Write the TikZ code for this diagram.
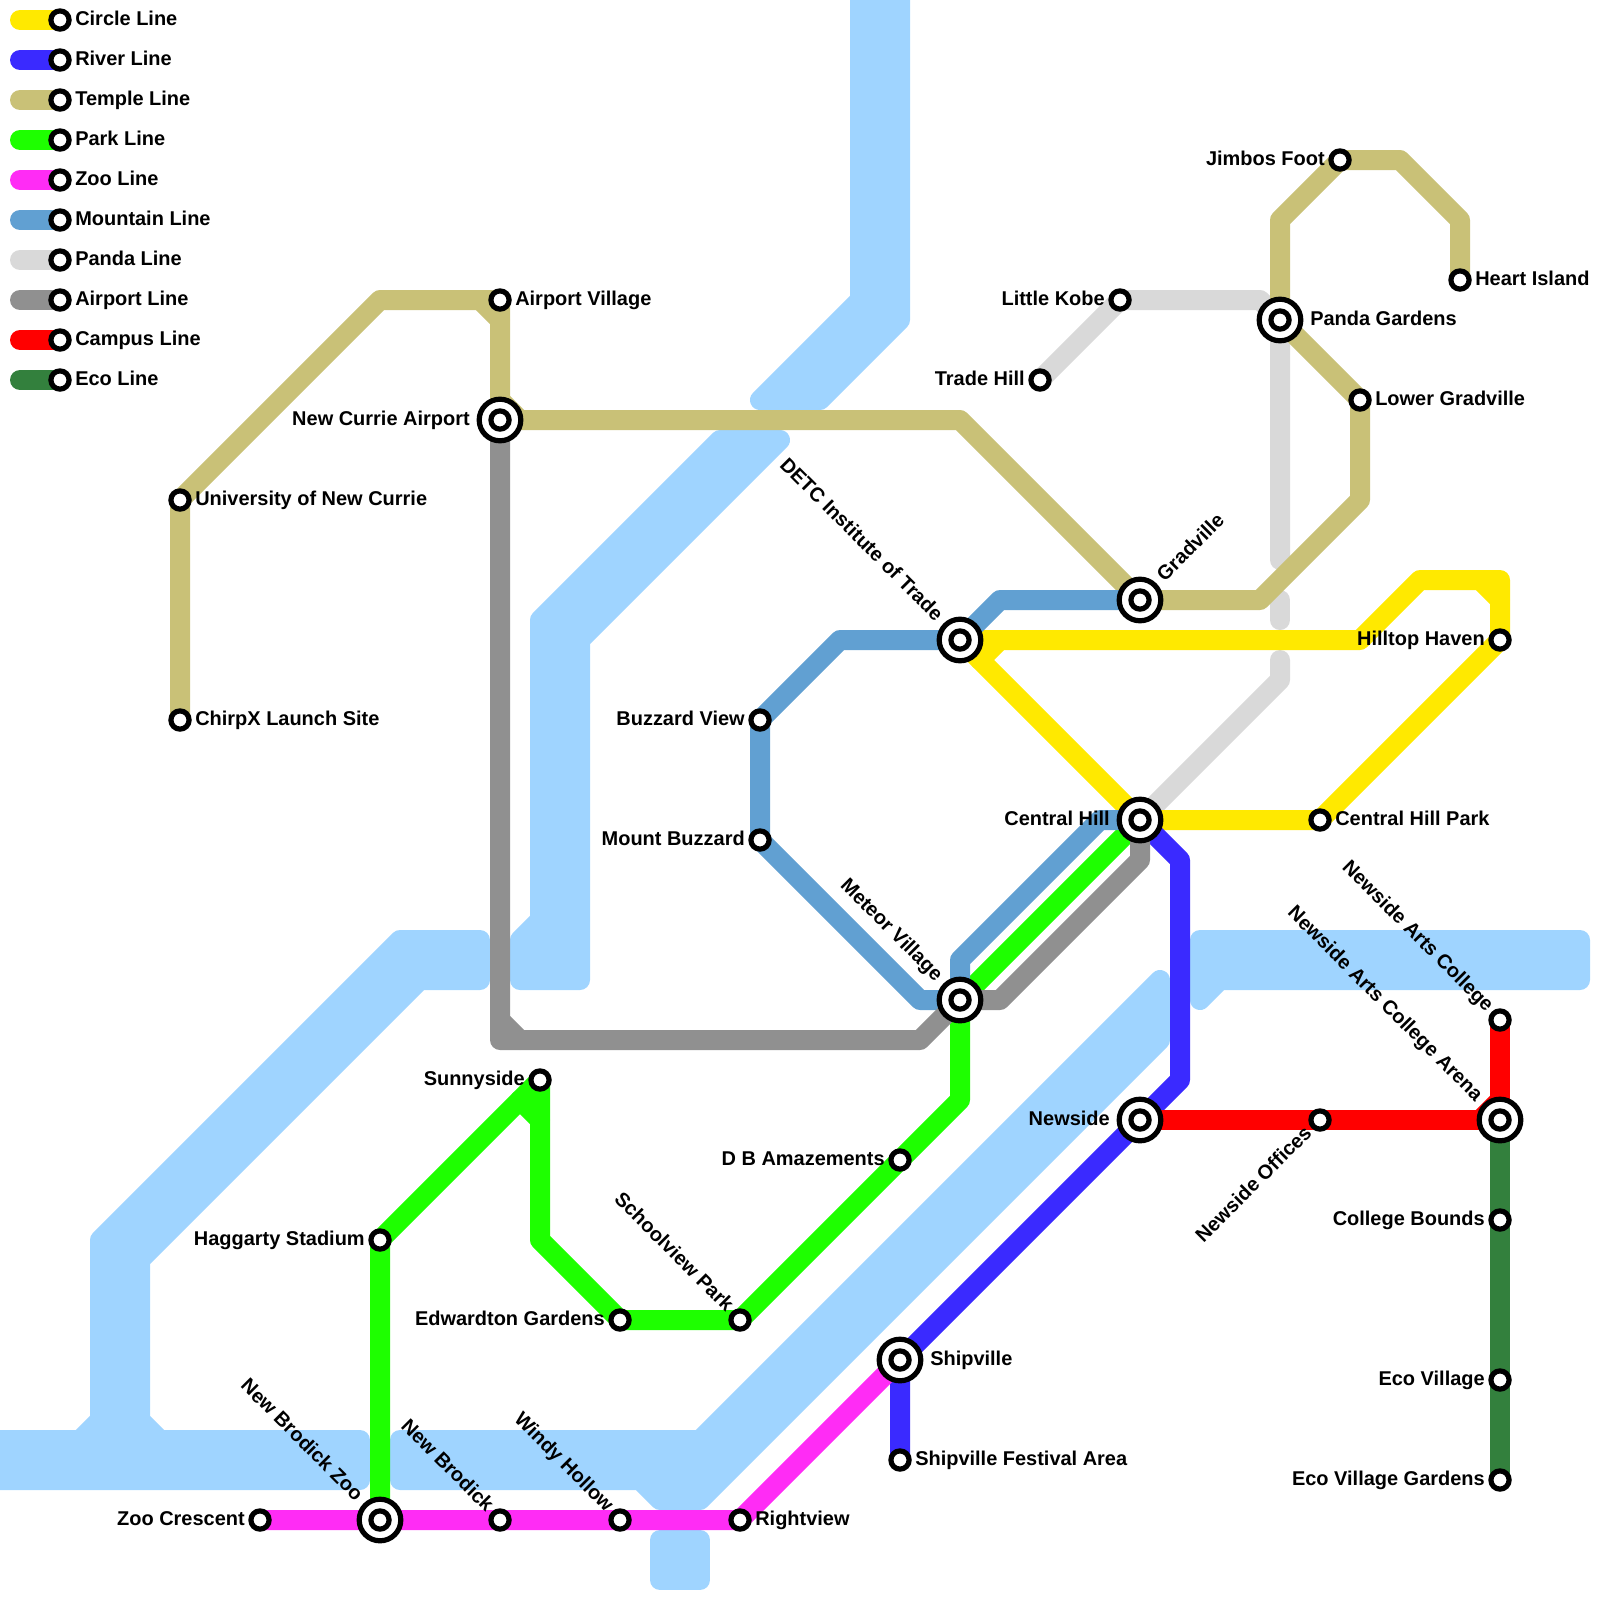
\documentclass[tikz,border=0pt]{standalone}
\usepackage{fontspec}
\setmainfont{Liberation Sans}
\usetikzlibrary{backgrounds}
\definecolor{cirline}{HTML}{FFE900}
\definecolor{rivline}{HTML}{3A2AFF}
\definecolor{temline}{HTML}{C9C177}
\definecolor{parline}{HTML}{1EFF00}
\definecolor{zooline}{HTML}{FF2CF5}
\definecolor{mouline}{HTML}{61A0D2}
\definecolor{panline}{HTML}{D9D9D9}
\definecolor{airline}{HTML}{909090}
\definecolor{camline}{HTML}{FF0000}
\definecolor{ecoline}{HTML}{33803D}
\definecolor{watercol}{HTML}{9FD4FF}
\tikzset{
  route/.style={line width=.5cm, line cap=round, line join=round, draw=#1},
  water/.style={draw=watercol, fill=watercol, line width=.5cm, line join=round},
  stn/.style={circle, draw, fill=white, line width=1.3mm, inner sep=0pt, minimum size=4.55mm},
  hub/.style={stn, minimum size=10.4mm},
  txt/.style={inner sep=0pt, font=\bfseries\fontsize{14.2}{14.2}\selectfont},
  lblr/.style={txt, anchor=base west, xshift=.375cm, yshift=-1.25mm},
  lbll/.style={txt, anchor=base east, xshift=-.375cm, yshift=-1.25mm},
  hubr/.style={txt, anchor=base west, xshift=.75cm, yshift=-1.25mm},
  hubl/.style={txt, anchor=base east, xshift=-.75cm, yshift=-1.25mm}
}
\begin{document}
\begin{tikzpicture}[x=.5cm, y=-.5cm]
\useasboundingbox(0,0)rectangle(80,80);
% key
\node[stn](kcir)at(3,1){};\node[lblr]at(kcir){Circle Line};
\node[stn](kriv)at(3,3){};\node[lblr]at(kriv){River Line};
\node[stn](ktem)at(3,5){};\node[lblr]at(ktem){Temple Line};
\node[stn](kpar)at(3,7){};\node[lblr]at(kpar){Park Line};
\node[stn](kzoo)at(3,9){};\node[lblr]at(kzoo){Zoo Line};
\node[stn](kmou)at(3,11){};\node[lblr]at(kmou){Mountain Line};
\node[stn](kpan)at(3,13){};\node[lblr]at(kpan){Panda Line};
\node[stn](kair)at(3,15){};\node[lblr]at(kair){Airport Line};
\node[stn](kcam)at(3,17){};\node[lblr]at(kcam){Campus Line};
\node[stn](keco)at(3,19){};\node[lblr]at(keco){Eco Line};
% stations
\node[stn](apv)at(25,15){};\node[lblr]at(apv){Airport Village};
\node[stn](unc)at(9,25){};\node[lblr]at(unc){University of New Currie};
\node[stn](chx)at(9,36){};\node[lblr]at(chx){ChirpX Launch Site};
\node[stn](jim)at(67,8){};\node[lbll]at(jim){Jimbos Foot};
\node[stn](hea)at(73,14){};\node[lblr]at(hea){Heart Island};
\node[stn](lko)at(56,15){};\node[lbll]at(lko){Little Kobe};
\node[stn](trh)at(52,19){};\node[lbll]at(trh){Trade Hill};
\node[stn](log)at(68,20){};\node[lblr]at(log){Lower Gradville};
\node[stn](hil)at(75,32){};\node[lbll]at(hil){Hilltop Haven};
\node[stn](buz)at(38,36){};\node[lbll]at(buz){Buzzard View};
\node[stn](mbu)at(38,42){};\node[lbll]at(mbu){Mount Buzzard};
\node[stn](chp)at(66,41){};\node[lblr]at(chp){Central Hill Park};
\node[stn](nac)at(75,51){};\node[rotate=-45,lbll]at(nac){Newside Arts College};
\node[stn](nof)at(66,56){};\node[rotate=45,lbll]at(nof){Newside Offices};
\node[stn](sun)at(27,54){};\node[lbll]at(sun){Sunnyside};
\node[stn](dba)at(45,58){};\node[lbll]at(dba){D B Amazements};
\node[stn](cob)at(75,61){};\node[lbll]at(cob){College Bounds};
\node[stn](hag)at(19,62){};\node[lbll]at(hag){Haggarty Stadium};
\node[stn](edw)at(31,66){};\node[lbll]at(edw){Edwardton Gardens};
\node[stn](sch)at(37,66){};\node[rotate=-45,lbll]at(sch){Schoolview Park};
\node[stn](ecv)at(75,69){};\node[lbll]at(ecv){Eco Village};
\node[stn](sfa)at(45,73){};\node[lblr]at(sfa){Shipville Festival Area};
\node[stn](evg)at(75,74){};\node[lbll]at(evg){Eco Village Gardens};
\node[stn](zoc)at(13,76){};\node[lbll]at(zoc){Zoo Crescent};
\node[stn](nbk)at(25,76){};\node[rotate=-45,lbll]at(nbk){New Brodick};
\node[stn](wih)at(31,76){};\node[rotate=-45,lbll]at(wih){Windy Hollow};
\node[stn](rig)at(37,76){};\node[lblr]at(rig){Rightview};
% interchanges
\node[hub](ncu)at(25,21){};\node[stn]at(ncu){};\node[hubl]at(ncu){New Currie Airport};
\node[hub](pag)at(64,16){};\node[stn]at(pag){};\node[hubr]at(pag){Panda Gardens};
\node[hub](gra)at(57,30){};\node[stn]at(gra){};\node[rotate=45,hubr]at(gra){Gradville};
\node[hub](det)at(48,32){};\node[stn]at(det){};\node[rotate=-45,hubl]at(det){DETC Institute of Trade};
\node[hub](cen)at(57,41){};\node[stn]at(cen){};\node[hubl]at(cen){Central Hill};
\node[hub](met)at(48,50){};\node[stn]at(met){};\node[rotate=-45,hubl]at(met){Meteor Village};
\node[hub](naa)at(75,56){};\node[stn]at(naa){};\node[rotate=-45,hubl]at(naa){Newside Arts College Arena};
\node[hub](nwd)at(57,56){};\node[stn]at(nwd){};\node[hubl]at(nwd){Newside};
\node[hub](shp)at(45,68){};\node[stn]at(shp){};\node[hubr]at(shp){Shipville};
\node[hub](nbz)at(19,76){};\node[stn]at(nbz){};\node[rotate=-45,hubl]at(nbz){New Brodick Zoo};
\begin{scope}[on background layer]
% water
\filldraw[water](43,-2)--(45,-2)--(45,16)--(41,20)--(38,20)--(43,15)--cycle;
\filldraw[water](36,22)--(39,22)--(29,32)--(29,49)--(26,49)--(26,47)--(27,46)--(27,31)--cycle;
\filldraw[water](24,47)--(24,49)--(21,49)--(7,63)--(7,71)--(8,72)--(18,72)--(18,74)--(-2,74)--(-2,72)--(4,72)--(5,71)--(5,62)--(20,47)--cycle;
\filldraw[water](20,72)--(35,72)--(58,49)--(58,52)--(35,75)--(33,75)--(32,74)--(20,74)--cycle;
\filldraw[water](33,77)--(35,77)--(35,79)--(33,79)--cycle;
\filldraw[water](60,47)--(79,47)--(79,49)--(61,49)--(60,50)--cycle;
% panda line, broken where it passes under
\draw[route=panline](trh.center)--(lko.center)--(63,15)--(pag.center)--(64,28);
\draw[route=panline](64,30)--(64,31);
\draw[route=panline](64,33)--(64,34)--(cen.center);
% circle line
\draw[route=cirline](det.center)--(68,32)--(71,29)--(75,29)--(hil.center)--(chp.center)--(cen.center)--(det.center);
\draw[route=cirline](74,29)--(75,30);
\draw[route=cirline](50,32)--(49,33);
% river line
\draw[route=rivline](sfa.center)--(shp.center)--(nwd.center)--(59,54)--(59,43)--(cen.center);
% temple line
\draw[route=temline](chx.center)--(unc.center)--(19,15)--(apv.center)--(ncu.center)--(48,21)--(gra.center)--(63,30)--(68,25)--(log.center)--(pag.center)--(64,11)--(jim.center)--(70,8)--(73,11)--(hea.center);
\draw[route=temline](24,15)--(25,16);
\draw[route=temline](25,20)--(26,21);
% park line
\draw[route=parline](nbz.center)--(hag.center)--(sun.center)--(27,62)--(edw.center)--(sch.center)--(dba.center)--(48,55)--(met.center)--(cen.center);
\draw[route=parline](26,55)--(27,56);
% zoo line
\draw[route=zooline](zoc.center)--(nbz.center)--(nbk.center)--(wih.center)--(rig.center)--(shp.center);
% mountain line
\draw[route=mouline](gra.center)--(50,30)--(det.center)--(42,32)--(buz.center)--(mbu.center)--(46,50)--(met.center)--(48,48)--(55,41)--(cen.center);
% airport line
\draw[route=airline](ncu.center)--(25,52)--(46,52)--(met.center)--(50,50)--(57,43)--(cen.center);
\draw[route=airline](25,51)--(26,52);
% campus line
\draw[route=camline](nwd.center)--(nof.center)--(naa.center)--(nac.center);
\draw[route=camline](74,56)--(75,55);
% eco line
\draw[route=ecoline](naa.center)--(cob.center)--(ecv.center)--(evg.center);
% key lines
\draw[route=cirline](1,1)coordinate(kcir0)--(kcir.center);
\draw[route=rivline](1,3)coordinate(kriv0)--(kriv.center);
\draw[route=temline](1,5)coordinate(ktem0)--(ktem.center);
\draw[route=parline](1,7)coordinate(kpar0)--(kpar.center);
\draw[route=zooline](1,9)coordinate(kzoo0)--(kzoo.center);
\draw[route=mouline](1,11)coordinate(kmou0)--(kmou.center);
\draw[route=panline](1,13)coordinate(kpan0)--(kpan.center);
\draw[route=airline](1,15)coordinate(kair0)--(kair.center);
\draw[route=camline](1,17)coordinate(kcam0)--(kcam.center);
\draw[route=ecoline](1,19)coordinate(keco0)--(keco.center);
\end{scope}
\end{tikzpicture}
\end{document}
